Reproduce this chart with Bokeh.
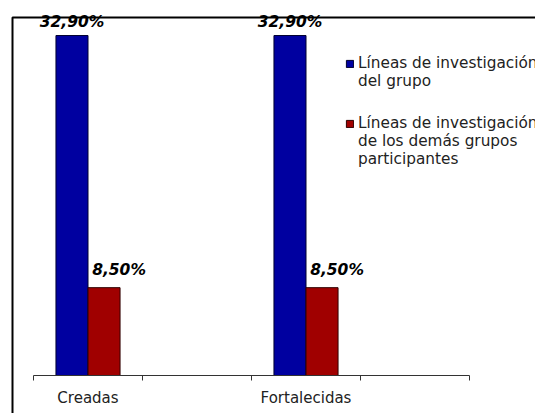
from bokeh.plotting import figure
from bokeh.models import (FixedTicker, BoxAnnotation, Legend, LegendItem,
                          ColumnDataSource, Range1d, LinearAxis)
from bokeh.core.properties import value
from bokeh.embed import file_html
from bokeh.resources import INLINE

# ---- data ----
categories = ["Creadas", "Fortalecidas"]
category_slot = [0, 2]          # slots of a 4-slot category axis (slots 1 and 3 used)
n_slots = 4
grupo = [32.9, 32.9]
demas = [8.5, 8.5]
grupo_labels = ["32,90%", "32,90%"]
demas_labels = ["8,50%", "8,50%"]
series_names = ["Líneas de investigación\ndel grupo",
                "Líneas de investigación\nde los demás grupos\nparticipantes"]

BLUE = "#0000A0"
RED = "#A00000"
FONT = "DejaVu Sans"

bw = 0.294
centers = [s + 0.5 for s in category_slot]
src = ColumnDataSource(dict(
    xb=[c - bw / 2 for c in centers],
    xr=[c + bw / 2 for c in centers],
    grupo=grupo, demas=demas,
    gl=grupo_labels, dl=demas_labels,
))

p = figure(width=535, height=413, output_backend="svg", toolbar_location=None,
           x_range=Range1d(-0.3028, 4.6055), y_range=Range1d(-3.677, 36.29),
           x_axis_type=None, y_axis_type=None,
           min_border_left=0, min_border_right=0, min_border_top=0,
           min_border_bottom=0)
p.outline_line_color = None
p.background_fill_color = "white"
p.border_fill_color = "white"

r1 = p.vbar(x="xb", top="grupo", width=bw, bottom=0, source=src,
            fill_color=BLUE, line_color="#000030", line_width=1)
r2 = p.vbar(x="xr", top="demas", width=bw, bottom=0, source=src,
            fill_color=RED, line_color="#300000", line_width=1)
# invisible renderer used for legend continuation lines
blank = p.vbar(x=[], top=[], width=bw, fill_alpha=0, line_alpha=0)

p.text(x="xb", y="grupo", text="gl", source=src, text_align="center",
       text_baseline="bottom", y_offset=-5, text_font=value(FONT),
       text_font_style="bold italic", text_font_size="15.5px", text_color="black")
p.text(x="xr", y="demas", text="dl", source=src, text_align="center",
       text_baseline="bottom", y_offset=-9, x_offset=15, text_font=value(FONT),
       text_font_style="bold italic", text_font_size="15.5px", text_color="black")

overrides = {c: name for c, name in zip(centers, categories)}
xaxis = LinearAxis(
    ticker=FixedTicker(ticks=centers, minor_ticks=list(range(n_slots + 1))),
    bounds=(0, n_slots), fixed_location=0,
    major_tick_out=0, major_tick_in=0,
    minor_tick_out=5, minor_tick_in=0,
    major_label_overrides=overrides,
    axis_line_color="#333333", minor_tick_line_color="#333333",
    major_label_text_font=FONT, major_label_text_font_size="15px",
    major_label_text_color="#222222", major_label_standoff=8,
)
p.add_layout(xaxis, "below")

# chart-area border (its right and bottom edges fall outside the picture)
box = BoxAnnotation(left=12, right=3000, top=396, bottom=-200,
                    left_units="screen", right_units="screen",
                    top_units="screen", bottom_units="screen",
                    fill_alpha=0, line_color="black", line_alpha=1,
                    line_width=2)
p.add_layout(box)


def make_legend(name, renderer, y):
    lines = name.split("\n")
    items = [LegendItem(label=lines[0], renderers=[renderer])]
    items += [LegendItem(label=t, renderers=[blank]) for t in lines[1:]]
    return Legend(items=items, location=(345, y), padding=0, margin=0,
                  border_line_color=None, background_fill_alpha=0,
                  glyph_width=9, glyph_height=9, label_standoff=4, spacing=0,
                  label_height=17,
                  label_text_font=FONT, label_text_font_size="15.3px",
                  label_text_color="#222222")


p.add_layout(make_legend(series_names[0], r1, 285 + 38))
p.add_layout(make_legend(series_names[1], r2, 207 + 38))

open("out.html", "w").write(file_html(p, INLINE))
